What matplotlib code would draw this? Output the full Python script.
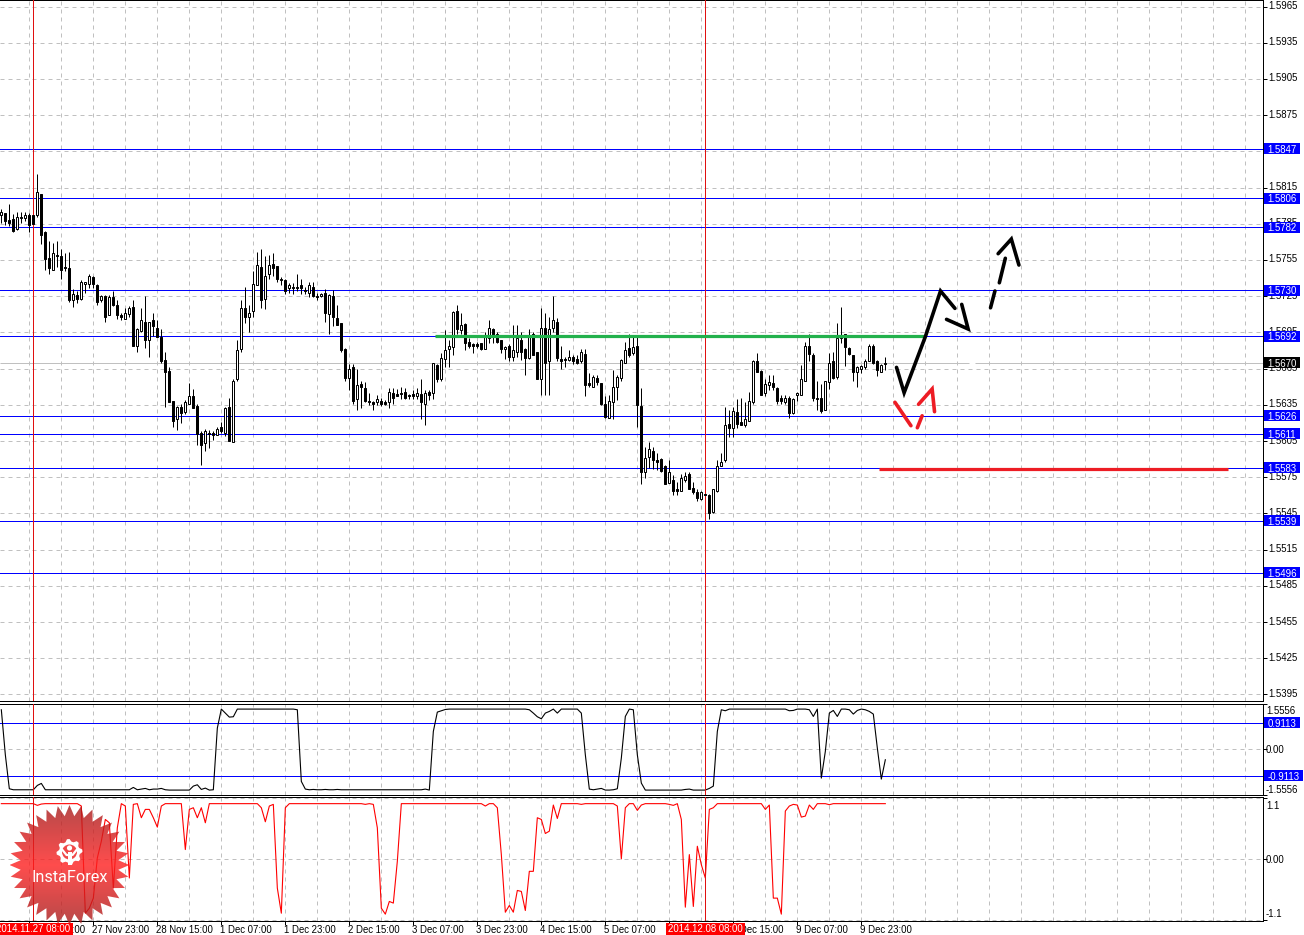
"""GBP/USD H1 chart with two indicator panels."""

import numpy as np
import matplotlib
matplotlib.use('Agg')
import matplotlib.pyplot as plt
from matplotlib.patches import Rectangle, Polygon, Circle
from matplotlib.transforms import ScaledTranslation

plt.rcParams['font.family'] = ['Liberation Sans', 'DejaVu Sans']

# prices in pips (1.5792 -> 15792)
opens = [15792, 15794, 15788, 15789, 15781, 15791, 15790, 15792, 15792, 15792,
         15810, 15778, 15757, 15747, 15759, 15758, 15749, 15748, 15722, 15726,
         15723, 15735, 15735, 15741, 15734, 15722, 15725, 15709, 15724, 15718,
         15709, 15706, 15710, 15716, 15684, 15696, 15704, 15689, 15705, 15699,
         15691, 15672, 15663, 15638, 15623, 15633, 15629, 15636, 15642, 15634,
         15612, 15603, 15612, 15612, 15610, 15617, 15612, 15633, 15604, 15656,
         15681, 15715, 15708, 15713, 15734, 15749, 15723, 15743, 15752, 15750,
         15739, 15738, 15732, 15733, 15733, 15734, 15730, 15728, 15733, 15725,
         15725, 15728, 15710, 15725, 15707, 15703, 15681, 15657, 15666, 15640,
         15652, 15649, 15638, 15637, 15637, 15638, 15637, 15637, 15645, 15644,
         15645, 15646, 15643, 15644, 15642, 15644, 15636, 15646, 15645, 15668,
         15656, 15673, 15681, 15683, 15713, 15697, 15702, 15687, 15685, 15685,
         15686, 15681, 15690, 15698, 15694, 15689, 15681, 15684, 15675, 15679,
         15689, 15681, 15674, 15694, 15679, 15656, 15699, 15671, 15699, 15704,
         15673, 15673, 15672, 15675, 15673, 15671, 15677, 15653, 15650, 15657,
         15653, 15636, 15624, 15637, 15650, 15657, 15670, 15682, 15678, 15684,
         15634, 15579, 15592, 15597, 15589, 15590, 15584, 15570, 15573, 15565,
         15564, 15573, 15578, 15566, 15563, 15557, 15561, 15560, 15546, 15564,
         15584, 15589, 15619, 15616, 15629, 15621, 15618, 15622, 15637, 15671,
         15663, 15645, 15651, 15653, 15649, 15641, 15637, 15641, 15628, 15643,
         15643, 15655, 15684, 15676, 15641, 15641, 15631, 15654, 15671, 15658,
         15690, 15694, 15682, 15676, 15662, 15665, 15666, 15671, 15684, 15671,
         15662, 15669]
closes = [15795, 15787, 15786, 15779, 15791, 15790, 15792, 15784, 15785, 15811,
          15776, 15756, 15748, 15761, 15758, 15747, 15748, 15722, 15727, 15723,
          15737, 15737, 15742, 15735, 15720, 15725, 15708, 15724, 15718, 15709,
          15708, 15711, 15715, 15684, 15698, 15705, 15689, 15704, 15700, 15691,
          15671, 15662, 15637, 15622, 15633, 15628, 15637, 15642, 15632, 15611,
          15602, 15613, 15611, 15610, 15615, 15613, 15632, 15605, 15655, 15680,
          15715, 15708, 15711, 15735, 15751, 15722, 15742, 15751, 15748, 15739,
          15738, 15729, 15734, 15732, 15732, 15732, 15729, 15734, 15725, 15724,
          15727, 15711, 15726, 15708, 15701, 15680, 15657, 15665, 15638, 15651,
          15650, 15638, 15637, 15636, 15640, 15636, 15636, 15646, 15641, 15642,
          15644, 15641, 15642, 15642, 15645, 15637, 15645, 15643, 15670, 15656,
          15674, 15680, 15684, 15712, 15698, 15701, 15686, 15684, 15684, 15684,
          15681, 15691, 15699, 15692, 15687, 15681, 15683, 15675, 15680, 15690,
          15679, 15674, 15693, 15676, 15656, 15699, 15670, 15698, 15705, 15674,
          15671, 15672, 15675, 15671, 15670, 15679, 15651, 15651, 15658, 15654,
          15636, 15625, 15638, 15650, 15658, 15672, 15680, 15676, 15683, 15635,
          15579, 15591, 15598, 15589, 15588, 15580, 15569, 15579, 15564, 15564,
          15574, 15576, 15565, 15563, 15558, 15563, 15560, 15545, 15565, 15584,
          15588, 15618, 15616, 15630, 15619, 15618, 15623, 15638, 15671, 15662,
          15643, 15652, 15654, 15650, 15638, 15638, 15641, 15628, 15640, 15645,
          15656, 15684, 15677, 15641, 15640, 15630, 15655, 15670, 15657, 15690,
          15693, 15683, 15677, 15662, 15666, 15667, 15671, 15684, 15670, 15664,
          15668, 15670]
highs = [15797, 15794, 15801, 15793, 15795, 15795, 15795, 15794, 15793, 15826,
         15810, 15779, 15771, 15769, 15771, 15764, 15761, 15762, 15731, 15729,
         15738, 15737, 15743, 15742, 15735, 15726, 15726, 15726, 15729, 15722,
         15711, 15715, 15717, 15722, 15699, 15715, 15725, 15704, 15711, 15705,
         15698, 15679, 15666, 15638, 15634, 15636, 15639, 15653, 15648, 15636,
         15613, 15615, 15614, 15613, 15617, 15621, 15633, 15641, 15656, 15689,
         15722, 15733, 15718, 15746, 15762, 15764, 15758, 15759, 15761, 15750,
         15741, 15739, 15736, 15736, 15743, 15739, 15733, 15737, 15737, 15728,
         15728, 15731, 15727, 15730, 15718, 15703, 15682, 15669, 15669, 15665,
         15655, 15654, 15645, 15638, 15643, 15641, 15639, 15649, 15649, 15648,
         15650, 15649, 15644, 15647, 15649, 15656, 15647, 15647, 15670, 15669,
         15678, 15697, 15689, 15713, 15718, 15711, 15703, 15690, 15686, 15687,
         15686, 15695, 15705, 15699, 15695, 15689, 15684, 15685, 15701, 15701,
         15695, 15682, 15698, 15695, 15679, 15715, 15711, 15708, 15725, 15707,
         15684, 15675, 15680, 15676, 15676, 15681, 15681, 15661, 15660, 15660,
         15653, 15642, 15643, 15664, 15660, 15673, 15687, 15694, 15693, 15691,
         15649, 15600, 15604, 15600, 15595, 15591, 15585, 15589, 15577, 15571,
         15578, 15579, 15579, 15571, 15565, 15564, 15562, 15561, 15565, 15589,
         15595, 15633, 15631, 15633, 15640, 15641, 15637, 15646, 15672, 15678,
         15664, 15656, 15660, 15660, 15650, 15643, 15643, 15642, 15641, 15646,
         15668, 15687, 15694, 15678, 15655, 15652, 15655, 15678, 15679, 15703,
         15716, 15694, 15683, 15676, 15667, 15668, 15673, 15685, 15685, 15672,
         15669, 15675]
lows = [15786, 15784, 15783, 15778, 15780, 15786, 15787, 15778, 15783, 15791,
        15768, 15747, 15743, 15747, 15749, 15739, 15746, 15720, 15716, 15719,
        15722, 15728, 15732, 15732, 15718, 15720, 15704, 15709, 15717, 15706,
        15705, 15706, 15708, 15684, 15679, 15695, 15682, 15675, 15692, 15691,
        15670, 15633, 15637, 15617, 15614, 15620, 15627, 15636, 15632, 15602,
        15585, 15597, 15599, 15606, 15610, 15612, 15609, 15605, 15604, 15655,
        15679, 15703, 15695, 15708, 15734, 15715, 15714, 15739, 15742, 15737,
        15734, 15727, 15728, 15727, 15729, 15727, 15727, 15724, 15724, 15722,
        15724, 15704, 15694, 15700, 15701, 15679, 15655, 15647, 15636, 15631,
        15632, 15637, 15635, 15631, 15635, 15634, 15635, 15632, 15636, 15642,
        15640, 15640, 15640, 15640, 15640, 15623, 15618, 15639, 15640, 15654,
        15655, 15666, 15666, 15676, 15694, 15694, 15680, 15682, 15678, 15682,
        15680, 15681, 15686, 15686, 15686, 15678, 15673, 15671, 15671, 15675,
        15672, 15660, 15673, 15676, 15656, 15643, 15643, 15643, 15695, 15671,
        15665, 15666, 15671, 15669, 15669, 15670, 15642, 15650, 15650, 15651,
        15635, 15624, 15624, 15623, 15639, 15655, 15670, 15675, 15676, 15617,
        15569, 15574, 15583, 15582, 15581, 15579, 15569, 15570, 15560, 15560,
        15564, 15571, 15565, 15561, 15555, 15556, 15560, 15540, 15545, 15563,
        15584, 15588, 15608, 15608, 15616, 15618, 15617, 15622, 15636, 15662,
        15643, 15642, 15647, 15647, 15636, 15636, 15636, 15624, 15627, 15638,
        15643, 15655, 15671, 15638, 15631, 15628, 15631, 15648, 15656, 15656,
        15686, 15667, 15676, 15655, 15650, 15661, 15665, 15671, 15669, 15659,
        15662, 15664]

osc_black = [1.35, -0.188, -1.351, -1.385, -1.385, -1.385, -1.385, -1.385, -1.385, -1.237,
             -1.168, -1.385, -1.385, -1.385, -1.385, -1.385, -1.385, -1.385, -1.385, -1.385,
             -1.385, -1.385, -1.385, -1.385, -1.385, -1.385, -1.385, -1.385, -1.385, -1.385,
             -1.385, -1.385, -1.385, -1.305, -1.385, -1.362, -1.339, -1.385, -1.362, -1.362,
             -1.339, -1.385, -1.396, -1.396, -1.396, -1.396, -1.396, -1.396, -1.26, -1.214,
             -1.374, -1.328, -1.396, -1.385, 0.723, 1.373, 1.236, 1.099, 1.111, 1.373,
             1.373, 1.373, 1.373, 1.373, 1.373, 1.373, 1.373, 1.373, 1.373, 1.373,
             1.373, 1.373, 1.373, 1.373, 1.35, -1.10, -1.362, -1.385, -1.374, -1.385,
             -1.385, -1.374, -1.385, -1.385, -1.374, -1.385, -1.385, -1.385, -1.385, -1.385,
             -1.385, -1.385, -1.385, -1.385, -1.385, -1.385, -1.385, -1.385, -1.385, -1.385,
             -1.385, -1.385, -1.385, -1.385, -1.385, -1.385, -1.362, -1.396, 0.609, 1.27,
             1.316, 1.36, 1.373, 1.373, 1.373, 1.373, 1.373, 1.373, 1.373, 1.373,
             1.373, 1.373, 1.373, 1.373, 1.373, 1.373, 1.373, 1.373, 1.373, 1.373,
             1.373, 1.373, 1.35, 1.236, 1.111, 1.042, 1.236, 1.293, 1.373, 1.236,
             1.373, 1.373, 1.373, 1.373, 1.373, 1.236, -0.188, -1.362, -1.385, -1.362,
             -1.339, -1.396, -1.396, -1.385, -1.351, -0.302, 1.122, 1.373, 1.35, -0.188,
             -1.157, -1.396, -1.396, -1.396, -1.396, -1.396, -1.396, -1.396, -1.396, -1.396,
             -1.396, -1.374, -1.362, -1.396, -1.396, -1.396, -1.396, -1.339, -1.26, 0.609,
             1.35, 1.316, 1.373, 1.373, 1.373, 1.373, 1.373, 1.373, 1.373, 1.373,
             1.373, 1.373, 1.373, 1.373, 1.373, 1.373, 1.373, 1.316, 1.327, 1.373,
             1.373, 1.373, 1.35, 1.122, 1.373, -0.986, -0.074, 1.236, 1.327, 1.122,
             1.373, 1.373, 1.35, 1.202, 1.327, 1.373, 1.35, 1.293, 1.202, 0.04,
             -1.02, -0.359]
osc_red = [1.0, 1.0, 1.0, 1.0, 1.0, 1.0, 1.0, 1.0, 1.0, 0.969,
           0.993, 1.0, 1.0, 1.0, 1.0, 1.0, 1.0, 1.0, 1.0, 1.0,
           0.957, -0.983, -0.892, -0.71, 0.017, 0.32, 0.714, 0.654, -0.528, 0.563,
           1.0, 0.957, -0.346, 0.987, 1.0, 0.745, 0.896, 0.896, 0.745, 0.575,
           0.957, 1.0, 1.0, 1.0, 1.0, 1.0, 0.169, 0.896, 0.926, 0.745,
           0.926, 0.654, 1.0, 1.0, 1.0, 1.0, 1.0, 1.0, 1.0, 1.0,
           1.0, 1.0, 1.0, 1.0, 1.0, 0.926, 0.672, 0.957, 0.987, -0.528,
           -0.983, 0.926, 1.0, 1.0, 1.0, 1.0, 1.0, 1.0, 1.0, 1.0,
           1.0, 1.0, 1.0, 1.0, 1.0, 1.0, 1.0, 1.0, 1.0, 1.0,
           1.0, 0.987, 1.0, 0.987, 0.563, -0.892, -1.0, -0.77, -0.80, -0.043,
           1.0, 1.0, 1.0, 1.0, 1.0, 1.0, 1.0, 1.0, 1.0, 1.0,
           1.0, 1.0, 1.0, 1.0, 1.0, 1.0, 1.0, 1.0, 1.0, 1.0,
           1.0, 0.957, 1.0, 1.0, 0.926, 0.078, -0.965, -0.843, -0.965, -0.571,
           -0.589, -0.934, -0.225, -0.225, 0.745, 0.714, 0.46, 0.502, 0.975, 0.732,
           1.0, 1.0, 1.0, 1.0, 1.0, 0.987, 1.0, 1.0, 1.0, 1.0,
           1.0, 1.0, 1.0, 1.0, 0.957, 0.0, 0.926, 1.0, 1.0, 0.878,
           0.975, 1.0, 1.0, 1.0, 1.0, 1.0, 1.0, 0.987, 0.969, 1.0,
           0.714, -0.874, 0.078, -0.861, 0.229, -0.104, -0.346, 0.896, 0.926, 1.0,
           1.0, 1.0, 1.0, 1.0, 1.0, 1.0, 1.0, 1.0, 1.0, 1.0,
           1.0, 0.896, 0.975, -0.71, -0.71, -1.0, 0.866, 0.957, 0.987, 0.975,
           0.757, 0.775, 0.975, 0.896, 1.0, 1.0, 1.0, 0.981, 1.0, 1.0,
           1.0, 1.0, 1.0, 1.0, 1.0, 1.0, 1.0, 1.0, 1.0, 1.0,
           1.0, 1.0]

levels = [1.5847, 1.5806, 1.5782, 1.5730, 1.5692, 1.5626, 1.5611, 1.5583, 1.5539, 1.5496]
last_price = 1.5670
osc_levels = [0.9113, -0.9113]
price_ticks = [1.5965, 1.5935, 1.5905, 1.5875, 1.5845, 1.5815, 1.5785, 1.5755, 1.5725, 1.5695,
               1.5665, 1.5635, 1.5605, 1.5575, 1.5545, 1.5515, 1.5485, 1.5455, 1.5425, 1.5395]
date_bars = [7, 23, 39, 55, 71, 87, 103, 119, 135, 151, 167, 183, 199, 215]
date_labels = ['27 Nov 07:00', '27 Nov 23:00', '28 Nov 15:00', '1 Dec 07:00', '1 Dec 23:00',
               '2 Dec 15:00', '3 Dec 07:00', '3 Dec 23:00', '4 Dec 15:00', '5 Dec 07:00',
               '5 Dec 23:00', '8 Dec 15:00', '9 Dec 07:00', '9 Dec 23:00']
cursor_bars = [8, 176]
cursor_labels = ['2014.11.27 08:00', '2014.12.08 08:00']

# hand drawn forecast, as (bar, pips)
fc_main = ([223.8, 225.7, 231.0, 234.8, 238.4], [15666, 15645, 15691.4, 15729.3, 15714.9])
fc_barb = ([236.3, 241.7, 240.1], [15705.8, 15697.8, 15718.2])
fc_red1 = ([223.4, 227.4], [15637.1, 15617.7])
fc_red2 = ([229.0, 230.2], [15616, 15625.9])
fc_red3 = ([229.3, 232.7, 233.3], [15635.4, 15648.1, 15629.3])
fc_dash1 = ([247.3, 248.4], [15715.4, 15729.3])
fc_dash2 = ([249.5, 251.0], [15736.1, 15756.4])
fc_dash3 = ([249.2, 252.5, 254.4], [15760.2, 15772.3, 15750.8])
green_bars, green_price = [108.4, 231.0], 1.5692
red_bars, red_price = [219.3, 306.6], 1.55822

# config
W, H = 1304, 935
RIGHT = 1262.5
FONT = 6.9
GRID = '#c0c0c0'
BLUE = '#0000ff'
ONE_PX = 0.72

fig = plt.figure(figsize=(W / 100, H / 100), dpi=100, facecolor='white')


def panel(top, bottom):
    ax = fig.add_axes([0, 1 - bottom / H, RIGHT / W, (bottom - top) / H])
    ax.set_xlim(-1.33 / 4, (RIGHT - 1.33) / 4)
    ax.spines['left'].set_visible(False)
    for sp in ax.spines.values():
        sp.set_linewidth(ONE_PX)
    ax.yaxis.tick_right()
    ax.tick_params(axis='y', length=3, width=ONE_PX, labelsize=FONT, pad=1)
    ax.set_xticks(date_bars)
    ax.set_xticks([k for k in range(7, 316, 8) if k not in date_bars], minor=True)
    ax.tick_params(axis='x', which='both', length=0, labelbottom=False)
    ax.grid(True, axis='both', which='both', color=GRID, linestyle=(0, (4, 4)), linewidth=ONE_PX)
    ax.set_axisbelow(True)
    return ax


def tag(ax, y, text, h, fc=BLUE, wide=False):
    # value box on the right of the price scale
    tr = ax.get_yaxis_transform()
    w = 38.5 if wide else 36
    ax.add_patch(Rectangle((1 + 1.5 / RIGHT, y - h), w / RIGHT, 2 * h, transform=tr,
                           fc=fc, ec='none', clip_on=False, zorder=6))
    ax.text(1 + 5 / RIGHT, y, text, transform=tr, color='white', fontsize=FONT, ha='left',
            va='center_baseline', clip_on=False, zorder=7)


def side_label(ax, y, text, dy):
    # indicator scale text, shifted inside the panel by dy pixels
    ax.annotate(text, xy=(1, y), xycoords=ax.get_yaxis_transform(), xytext=(3.5 * ONE_PX, -dy * ONE_PX),
                textcoords='offset points', fontsize=FONT, ha='left', va='center_baseline',
                annotation_clip=False, zorder=5)


def hlevel(ax, y, color=BLUE):
    ax.axhline(y, color=color, linewidth=ONE_PX, zorder=1.6)


ax1 = panel(0, 701)
ax2 = panel(703.5, 795)
ax3 = panel(797.3, 920.5)

# main chart
bars = np.arange(len(opens))
o = np.array(opens) / 1e4
c = np.array(closes) / 1e4
hi = np.array(highs) / 1e4
lo = np.array(lows) / 1e4
px_per_price = 12070
ax1.set_ylim(1.5965 - 694.5 / px_per_price, 1.5965 + 6.5 / px_per_price)
ax1.set_yticks(price_ticks)
ax1.set_yticklabels(['%.4f' % p for p in price_ticks])
up_shift = ScaledTranslation(0, 1.5 / 100, fig.dpi_scale_trans)
for t in ax1.get_yticklabels():
    t.set_transform(t.get_transform() + up_shift)

for y in levels:
    hlevel(ax1, y)
    tag(ax1, y, '%.4f' % y, 5.5 / px_per_price)
ax1.hlines([last_price, last_price], [-0.33, 243.5], [242.0, 315.3], color=GRID, linewidth=ONE_PX, zorder=1.6)
tag(ax1, last_price, '%.4f' % last_price, 5.5 / px_per_price, fc='black')

ax1.vlines(bars, lo, hi, color='black', linewidth=ONE_PX, zorder=3)
up = c >= o
ax1.bar(bars[up], (c - o)[up], bottom=o[up], width=0.5, facecolor='white',
        edgecolor='black', linewidth=ONE_PX, zorder=4)
ax1.bar(bars[~up], (c - o)[~up], bottom=o[~up], width=0.5, facecolor='black',
        edgecolor='black', linewidth=ONE_PX, zorder=4)

ax1.plot(green_bars, [green_price] * 2, color='#22b14c', linewidth=2.3, solid_capstyle='butt', zorder=5)
ax1.plot(red_bars, [red_price] * 2, color='#ed1c24', linewidth=2.3, solid_capstyle='butt', zorder=5)
for seg, col in [(fc_main, 'black'), (fc_barb, 'black'), (fc_dash1, 'black'), (fc_dash2, 'black'),
                 (fc_dash3, 'black'), (fc_red1, '#ed1c24'), (fc_red2, '#ed1c24'), (fc_red3, '#ed1c24')]:
    ax1.plot(seg[0], np.array(seg[1]) / 1e4, color=col, linewidth=2.6, solid_capstyle='round',
             solid_joinstyle='miter', zorder=5)

# first oscillator
ax2.set_ylim(-1.564, 1.564)
ax2.set_yticks([1.5556, 0, -1.5556])
ax2.set_yticklabels([])
ax2.plot(bars, osc_black, color='black', linewidth=0.8, zorder=3)
side_label(ax2, 1.5556, '1.5556', 6.5)
side_label(ax2, 0, '0.00', 0)
side_label(ax2, -1.5556, '-1.5556', -6)
for y in osc_levels:
    hlevel(ax2, y)
    tag(ax2, y, '%.4f' % y, 5.5 / 29.25, wide=y < 0)

# second oscillator
ax3.set_ylim(-1.115, 1.115)
ax3.set_yticks([1.1, 0, -1.1])
ax3.set_yticklabels([])
ax3.plot(bars, osc_red, color='#ff0000', linewidth=0.8, zorder=3)
side_label(ax3, 1.1, '1.1', 7)
side_label(ax3, 0, '0.00', 0)
side_label(ax3, -1.1, '-1.1', -6.5)

# date scale
ax3.set_xticklabels(date_labels, fontsize=FONT)
ax3.tick_params(axis='x', which='major', length=3, width=ONE_PX, labelbottom=True, pad=0)
left_shift = ScaledTranslation(-1 / 100, 0, fig.dpi_scale_trans)
for t in ax3.get_xticklabels():
    t.set_ha('left')
    t.set_transform(t.get_transform() + left_shift)

for ax in [ax1, ax2, ax3]:
    for k in cursor_bars:
        ax.axvline(k, color='#e01010', linewidth=ONE_PX, zorder=3.5)

# overlay in pixels for the logo and the cursor date boxes
over = fig.add_axes([0, 0, 1, 1], zorder=5)
over.axis('off')

cx, cy = 69.5, 865
theta = np.linspace(0, 2 * np.pi, 64, endpoint=False)
radius = np.where(np.arange(64) % 2 == 0, 60, 49)
star = Polygon(np.column_stack([cx + radius * np.sin(theta), cy + radius * np.cos(theta)]),
               closed=True, fc='none', ec='none', transform=over.transData)
over.add_patch(star)
grad = np.zeros((120, 1, 4))
t = np.abs(np.linspace(-1, 1, 120))[:, None]
grad[:, :, 0] = 1.0 - 0.35 * t
grad[:, :, 1] = 0.125 - 0.015 * t
grad[:, :, 2] = 0.125 - 0.015 * t
grad[:, :, 3] = 0.8
im = over.imshow(grad, extent=[cx - 60, cx + 60, cy + 60, cy - 60], aspect='auto', zorder=1)
im.set_clip_path(star)
over.set_xlim(0, W)
over.set_ylim(H, 0)

gear_th = np.linspace(0, 2 * np.pi, 32, endpoint=False)
gear_r = np.where(np.arange(32) % 4 < 2, 13, 10.5)
over.add_patch(Polygon(np.column_stack([cx + gear_r * np.sin(gear_th), 852 + gear_r * np.cos(gear_th)]),
                       closed=True, fc='white', ec='none', zorder=2))
over.add_patch(Circle((cx, 852), 7.5, fc='#f04848', ec='none', zorder=2.1))
over.add_patch(Rectangle((cx - 2, 852), 4, 12.5, fc='white', ec='none', zorder=2.2))
over.add_patch(Circle((cx, 848), 2.6, fc='white', ec='none', zorder=2.2))
over.plot([cx - 7, cx - 3, cx + 3, cx + 7], [850, 855, 855, 850], color='white', linewidth=1.6, zorder=2.2)
over.text(cx, 878, 'InstaForex', color='white', fontsize=11.7, family=['Roboto', 'DejaVu Sans'],
          ha='center', va='center', zorder=2.3)

for k, lab in zip(cursor_bars, cursor_labels):
    mid = 1.33 + 4 * k
    over.add_patch(Rectangle((mid - 39.5, 923), 79, 12, fc='#ff0000', ec='none', zorder=4, clip_on=False))
    over.text(mid, 929, lab, color='white', fontsize=FONT, ha='center', va='center', zorder=5)

plt.savefig('out.png', dpi=100)
